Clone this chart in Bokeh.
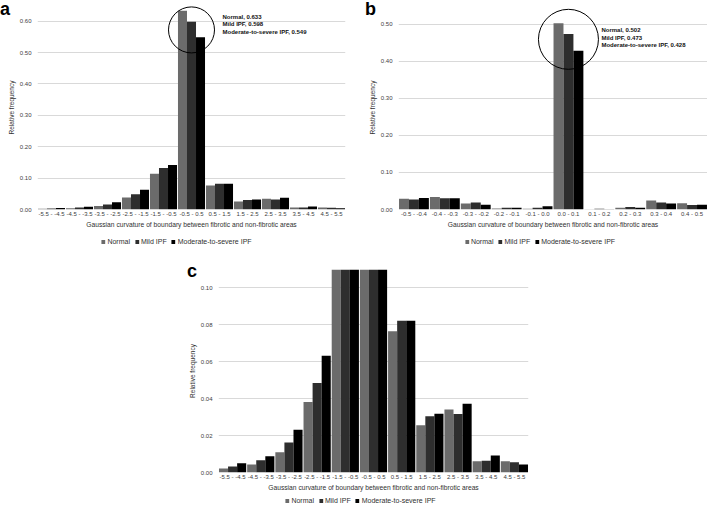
from bokeh.plotting import figure
from bokeh.models import (ColumnDataSource, FactorRange, Range1d, NumeralTickFormatter,
                          FixedTicker, Legend, LegendItem, Spacer, Div)
from bokeh.transform import dodge
from bokeh.layouts import column, row
from bokeh.core.properties import value
from bokeh.embed import file_html
from bokeh.resources import INLINE

FONT = "Liberation Sans"

# ---------------- data ----------------
series_names = ["Normal", "Mild IPF", "Moderate-to-severe IPF"]

bins_a = ["-5.5 - -4.5", "-4.5 - -3.5", "-3.5 - -2.5", "-2.5 - -1.5", "-1.5 - -0.5",
          "-0.5 - 0.5", "0.5 - 1.5", "1.5 - 2.5", "2.5 - 3.5", "3.5 - 4.5", "4.5 - 5.5"]
normal_a = [0.0022, 0.0043, 0.0110, 0.0382, 0.1138, 0.633, 0.0766, 0.0256, 0.0342, 0.0061, 0.0061]
mild_a = [0.0032, 0.0067, 0.0162, 0.0485, 0.1320, 0.598, 0.0822, 0.0305, 0.0317, 0.0063, 0.0056]
mod_a = [0.0050, 0.0088, 0.0232, 0.0632, 0.1415, 0.549, 0.0822, 0.0319, 0.0373, 0.0092, 0.0043]

bins_b = ["-0.5 - -0.4", "-0.4 - -0.3", "-0.3 - -0.2", "-0.2 - -0.1", "-0.1 - 0.0",
          "0.0 - 0.1", "0.1 - 0.2", "0.2 - 0.3", "0.3 - 0.4", "0.4 - 0.5"]
normal_b = [0.029, 0.034, 0.016, 0.003, 0.002, 0.502, 0.001, 0.005, 0.024, 0.017]
mild_b = [0.027, 0.030, 0.019, 0.005, 0.005, 0.473, 0.002, 0.007, 0.019, 0.012]
mod_b = [0.031, 0.030, 0.013, 0.005, 0.009, 0.428, 0.001, 0.005, 0.016, 0.013]

ticks_a = [0.0, 0.1, 0.2, 0.3, 0.4, 0.5, 0.6]
ticks_b = [0.0, 0.1, 0.2, 0.3, 0.4, 0.5]
ticks_c = [0.0, 0.02, 0.04, 0.06, 0.08, 0.10]

colors = ["#6b6b6b", "#2e2e2e", "#000000"]
X_TITLE = "Gaussian curvature of boundary between fibrotic and non-fibrotic areas"
Y_TITLE = "Relative frequency"


def legend_strip(cats, vals, width, height):
    # proxy bars sit below the visible y-range; only their legend entries show
    q = figure(width=width, height=height, x_range=FactorRange(*cats),
               y_range=Range1d(10, 11), x_axis_type=None, y_axis_type=None,
               output_backend="svg", toolbar_location=None, min_border=0,
               outline_line_color=None, background_fill_color="white",
               border_fill_color="white")
    q.xgrid.visible = False
    q.ygrid.visible = False
    src = ColumnDataSource(dict(cat=cats, s0=vals[0], s1=vals[1], s2=vals[2]))
    items = []
    for k, (n, col) in enumerate(zip(series_names, colors)):
        r = q.vbar(x="cat", top="s%d" % k, width=0.3, source=src, fill_color=col,
                   line_color=None)
        items.append(LegendItem(label=n, renderers=[r]))
    q.add_layout(Legend(items=items, orientation="horizontal", location="center",
                        label_text_font=FONT, label_text_font_size="7px",
                        label_text_color="#303030", glyph_width=5, glyph_height=5,
                        label_standoff=2, spacing=4, padding=0, margin=0,
                        border_line_color=None, background_fill_alpha=0,
                        label_height=8, label_width=10))
    return q


def letter_div(letter, mt, ml):
    return Div(text=letter, width=16, height=18, margin=(mt, 0, -(mt + 18), ml),
               styles={"font-family": FONT, "font-size": "18px", "font-weight": "bold",
                       "line-height": "18px", "color": "black"})


def make_panel(cats, vals, y_end, ticks, width, height, bl, br, bt, bb,
               annotate=False, circle_size=46, circle_frac=0.9, ann_dx=31, ann_dy=3):
    p = figure(x_range=FactorRange(*cats), y_range=Range1d(0, y_end), width=width,
               height=height, output_backend="svg", toolbar_location=None,
               min_border_left=bl, min_border_right=br, min_border_top=bt,
               min_border_bottom=bb, background_fill_color="white",
               border_fill_alpha=0, outline_line_color=None)
    p.x_range.range_padding = 0
    src = ColumnDataSource(dict(cat=cats, s0=vals[0], s1=vals[1], s2=vals[2]))
    bw = 0.322
    offsets = [-bw, 0.0, bw]
    for k, (off, col) in enumerate(zip(offsets, colors)):
        p.vbar(x=dodge("cat", off, range=p.x_range), top="s%d" % k, width=bw,
               source=src, fill_color=col, line_color=None)

    p.yaxis.ticker = FixedTicker(ticks=ticks)
    p.yaxis.formatter = NumeralTickFormatter(format="0.00")
    for ax in (p.xaxis[0], p.yaxis[0]):
        ax.axis_line_color = None
        ax.major_tick_line_color = None
        ax.minor_tick_line_color = None
        ax.major_tick_out = 0
        ax.major_tick_in = 0
        ax.minor_tick_out = 0
        ax.minor_tick_in = 0
        ax.major_label_text_font = FONT
        ax.major_label_text_font_size = "6px"
        ax.major_label_text_color = "#404040"
        ax.axis_label_text_font = FONT
        ax.axis_label_text_font_style = "normal"
        ax.axis_label_text_color = "#303030"
    p.yaxis.axis_label = Y_TITLE
    p.yaxis.axis_label_text_font_size = "6.5px"
    p.yaxis.major_label_standoff = 6
    p.yaxis.axis_label_standoff = 2
    p.xaxis.axis_label = X_TITLE
    p.xaxis.axis_label_text_font_size = "6.7px"
    p.xaxis.major_label_standoff = 1
    p.xaxis.axis_label_standoff = 1
    p.xgrid.grid_line_color = None
    p.ygrid.grid_line_color = "#d9d9d9"
    p.ygrid.grid_line_width = 1

    if annotate:
        i = max(range(len(cats)), key=lambda j: vals[0][j])
        peak = vals[0][i]
        p.scatter(x=[cats[i]], y=[peak * circle_frac], size=circle_size, marker="circle",
                  fill_alpha=0, line_color="black", line_width=1)
        texts = ["%s, %.3f" % (n, v[i]) for n, v in zip(series_names, vals)]
        p.text(x=[cats[i]] * 3, y=[peak] * 3, text=texts, x_offset=ann_dx,
               y_offset=[ann_dy, ann_dy + 7.5, ann_dy + 15],
               text_font=value(FONT), text_font_size="6px", text_font_style="bold",
               text_baseline="top", text_align="left", text_color="#111111")
    return p


vals_a = [normal_a, mild_a, mod_a]
vals_b = [normal_b, mild_b, mod_b]

pa = make_panel(bins_a, vals_a, 0.65, ticks_a, 350, 233, 37, 5, 5, 24,
                annotate=True, circle_size=46, circle_frac=0.904, ann_dx=31, ann_dy=3)
pb = make_panel(bins_b, vals_b, 0.55, ticks_b, 357, 233, 48, 0, 5, 24,
                annotate=True, circle_size=60, circle_frac=0.914, ann_dx=33, ann_dy=4)
pc = make_panel(bins_a, vals_a, 0.11, ticks_c, 400, 244, 68, 22, 19, 22)

col_a = column(letter_div("a", 0, 0), pa,
               row(Spacer(width=2, height=17), legend_strip(bins_a, vals_a, 348, 17)))
col_b = column(letter_div("b", 0, 15), pb,
               row(Spacer(width=22, height=17), legend_strip(bins_b, vals_b, 335, 17)))
col_c = column(letter_div("c", 12, 37), pc,
               row(Spacer(width=20, height=12), legend_strip(bins_a, vals_a, 380, 12)))

layout = column(row(col_a, col_b), row(Spacer(width=150, height=256), col_c))

open("out.html", "w").write(file_html(layout, INLINE))
